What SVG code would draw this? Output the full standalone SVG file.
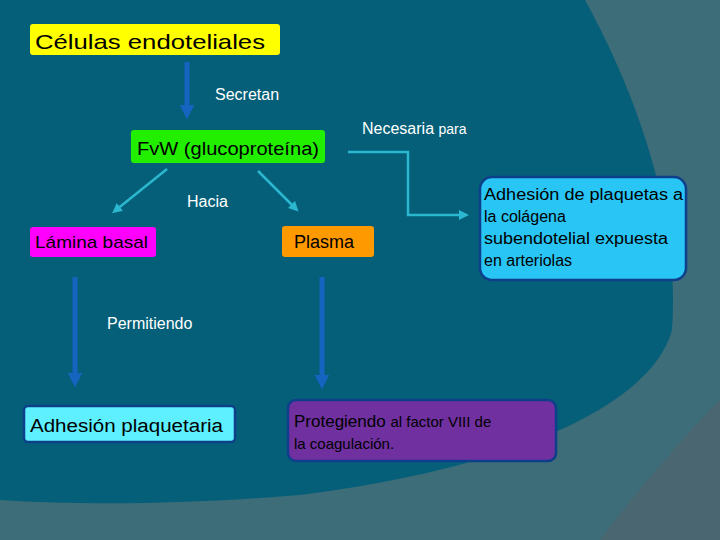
<svg xmlns="http://www.w3.org/2000/svg" width="720" height="540" viewBox="0 0 720 540">
<defs>
<style>
text{font-family:"Liberation Sans",Arial,sans-serif;}
.lbl{fill:#fff;font-size:16px;}
.node{stroke:#0d3f8a;stroke-width:2.5;}
.blue{stroke:#1565c0;stroke-width:5;fill:none;}
.cy{stroke:#2bb7cf;stroke-width:2.5;fill:none;}
</style>
<marker id="ab" markerWidth="3" markerHeight="3" refX="1.5" refY="1.5" orient="auto" markerUnits="strokeWidth"><path d="M0,0L3,1.5L0,3z" fill="#1565c0"/></marker>
<marker id="ac" markerWidth="4" markerHeight="4" refX="2" refY="2" orient="auto" markerUnits="strokeWidth"><path d="M0,0L4,2L0,4z" fill="#2bb7cf"/></marker>
</defs>
<rect width="720" height="540" fill="#4a6670"/>
<path d="M0,0H720V400C680,440 630,500 600,540H0Z" fill="#3e6d7a"/>
<path d="M0,0H585C640,100 680,220 672,330C650,410 500,470 300,495C180,505 80,505 0,500Z" fill="#055f78"/>
<g id="connectors">
<line class="blue" x1="187" y1="62" x2="187" y2="112" marker-end="url(#ab)"/>
<line class="blue" x1="75" y1="277" x2="75" y2="380" marker-end="url(#ab)"/>
<line class="blue" x1="322" y1="277" x2="322" y2="382" marker-end="url(#ab)"/>
<polyline class="cy" points="348,152 408,152 408,215 464,215" marker-end="url(#ac)"/>
<line class="cy" x1="167" y1="169" x2="116" y2="210" marker-end="url(#ac)"/>
<line class="cy" x1="258" y1="171" x2="295" y2="208" marker-end="url(#ac)"/>
</g>
<text class="lbl" x="215" y="100">Secretan</text>
<text class="lbl" x="362" y="134">Necesaria <tspan font-size="14">para</tspan></text>
<text class="lbl" x="187" y="207">Hacia</text>
<text class="lbl" x="107" y="329">Permitiendo</text>
<g id="n1"><rect x="30" y="24" width="250" height="31" rx="3" fill="#ffff00"/><text x="35" y="49" font-size="21" textLength="230" lengthAdjust="spacingAndGlyphs">Células endoteliales</text></g>
<g id="n2"><rect x="131" y="130" width="194" height="33" rx="3" fill="#22ee00"/><text x="137" y="155" font-size="18" textLength="182" lengthAdjust="spacingAndGlyphs">FvW (glucoproteína)</text></g>
<g id="n3"><rect class="node" x="480" y="177" width="206" height="103" rx="12" fill="#29c5f5"/><text font-size="16"><tspan x="484" y="200" textLength="199" lengthAdjust="spacingAndGlyphs">Adhesión de plaquetas a</tspan><tspan x="484" y="222">la colágena</tspan><tspan x="484" y="244" textLength="184" lengthAdjust="spacingAndGlyphs">subendotelial expuesta</tspan><tspan x="484" y="266">en arteriolas</tspan></text></g>
<g id="n4"><rect x="30" y="227" width="126" height="30" rx="3" fill="#ff00ff"/><text x="35" y="248" font-size="17" textLength="113" lengthAdjust="spacingAndGlyphs">Lámina basal</text></g>
<g id="n5"><rect x="282" y="226" width="92" height="31" rx="3" fill="#ff9900"/><text x="294" y="248" font-size="18">Plasma</text></g>
<g id="n6"><rect class="node" x="24" y="406" width="211" height="36" rx="4" fill="#5ef0ff"/><text x="30" y="432" font-size="18" textLength="193" lengthAdjust="spacingAndGlyphs">Adhesión  plaquetaria</text></g>
<g id="n7"><rect class="node" x="288" y="400" width="268" height="61" rx="8" fill="#7030a0"/><text x="294" y="427" font-size="17">Protegiendo <tspan font-size="15">al factor VIII de</tspan></text><text x="294" y="449" font-size="15">la coagulación.</text></g>
</svg>
